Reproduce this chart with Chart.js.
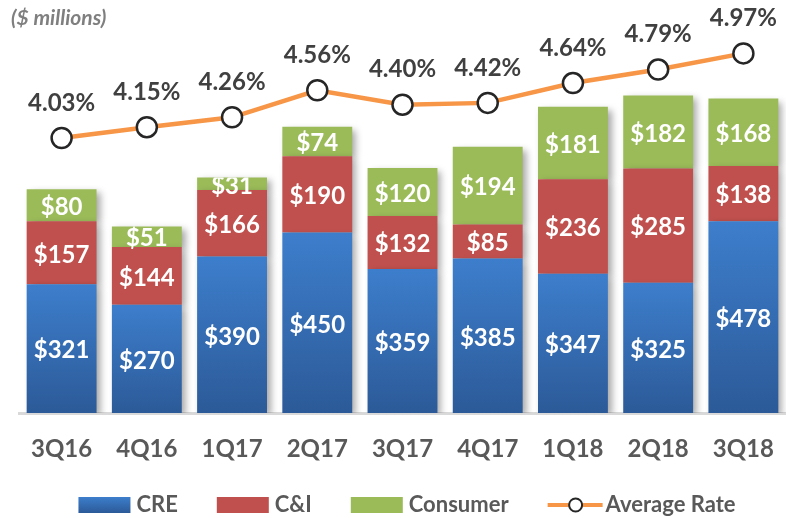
<!DOCTYPE html>
<html>
<head>
<meta charset="utf-8">
<script src="https://cdn.jsdelivr.net/npm/chart.js@4.4.1/dist/chart.umd.min.js"></script>
<style>
    html, body { margin: 0; padding: 0; background: #fff; }
    #wrap { width: 786px; height: 518px; position: relative; }
</style>
</head>
<body>
<div id="wrap"><canvas id="loanChart"></canvas></div>
<script>
const categories = ['3Q16', '4Q16', '1Q17', '2Q17', '3Q17', '4Q17', '1Q18', '2Q18', '3Q18'];
const creValues = [321, 270, 390, 450, 359, 385, 347, 325, 478];
const cniValues = [157, 144, 166, 190, 132, 85, 236, 285, 138];
const consumerValues = [80, 51, 31, 74, 120, 194, 181, 182, 168];
const avgRateValues = [4.03, 4.15, 4.26, 4.56, 4.40, 4.42, 4.64, 4.79, 4.97];

const FONT = 'Lato, "Open Sans", sans-serif';
const BLUE_TOP = '#3D7ECC';
const BLUE_BOTTOM = '#2C5A98';

// blue bars fade from light at the top to darker at the base
function blueGradient(context) {
    const chart = context.chart;
    if (!chart.chartArea || !context.parsed) return BLUE_TOP;
    const y = chart.scales.y;
    const top = y.getPixelForValue(context.parsed.y);
    const bottom = y.getPixelForValue(0);
    const g = chart.ctx.createLinearGradient(0, top, 0, bottom);
    g.addColorStop(0, BLUE_TOP);
    g.addColorStop(1, BLUE_BOTTOM);
    return g;
}

// soft shadow behind the bars
const barShadow = {
    id: 'barShadow',
    beforeDatasetDraw(chart, args) {
        if (args.meta.type !== 'bar') return;
        const ctx = chart.ctx;
        ctx.save();
        ctx.shadowColor = 'rgba(0,0,0,0.35)';
        ctx.shadowBlur = 7;
        ctx.shadowOffsetX = 4;
        ctx.shadowOffsetY = 3;
    },
    afterDatasetDraw(chart, args) {
        if (args.meta.type !== 'bar') return;
        chart.ctx.restore();
    }
};

// value labels on bars and above the rate points
const valueLabels = {
    id: 'valueLabels',
    afterDatasetsDraw(chart) {
        const ctx = chart.ctx;
        ctx.save();
        ctx.textAlign = 'center';
        ctx.textBaseline = 'middle';
        chart.data.datasets.forEach(function (ds, i) {
            const meta = chart.getDatasetMeta(i);
            meta.data.forEach(function (el, j) {
                const p = el.getProps(['x', 'y', 'base'], true);
                if (meta.type === 'bar') {
                    ctx.save();
                    ctx.beginPath();
                    ctx.rect(p.x - 60, p.y, 120, 200);
                    ctx.clip();
                    ctx.font = 'bold 24px ' + FONT;
                    ctx.fillStyle = '#FFFFFF';
                    ctx.fillText('$' + ds.data[j], p.x, (p.y + p.base) / 2 + 2);
                    ctx.restore();
                } else {
                    ctx.font = 'bold 24px ' + FONT;
                    ctx.fillStyle = '#404040';
                    ctx.fillText(ds.data[j].toFixed(2) + '%', p.x, p.y - 35);
                }
            });
        });
        ctx.restore();
    }
};

// unit note and legend drawn in the excel style
const extras = {
    id: 'extras',
    afterDraw(chart) {
        const ctx = chart.ctx;
        ctx.save();
        ctx.font = 'italic bold 21px ' + FONT;
        ctx.fillStyle = '#7F7F7F';
        ctx.textAlign = 'left';
        ctx.textBaseline = 'middle';
        ctx.fillText('($ millions)', 11, 18);

        ctx.font = 'bold 22px ' + FONT;
        const items = chart.data.datasets.map(function (ds) {
            return { ds: ds, w: 55 + 5 + ctx.measureText(ds.label).width };
        });
        const gap = 37;
        let total = 0;
        items.forEach(function (it) { total += it.w; });
        total += gap * (items.length - 1);
        let x = 408 - total / 2;
        const cy = 505;
        items.forEach(function (it) {
            const ds = it.ds;
            if (ds.type === 'line') {
                ctx.strokeStyle = ds.borderColor;
                ctx.lineWidth = 4;
                ctx.beginPath();
                ctx.moveTo(x, cy);
                ctx.lineTo(x + 55, cy);
                ctx.stroke();
                ctx.beginPath();
                ctx.arc(x + 28, cy, 6.5, 0, Math.PI * 2);
                ctx.fillStyle = '#FFFFFF';
                ctx.fill();
                ctx.lineWidth = 2;
                ctx.strokeStyle = '#262626';
                ctx.stroke();
            } else {
                let fill = ds.legendColor;
                if (ds.label === 'CRE') {
                    fill = ctx.createLinearGradient(0, cy - 8, 0, cy + 8);
                    fill.addColorStop(0, BLUE_TOP);
                    fill.addColorStop(1, BLUE_BOTTOM);
                }
                ctx.fillStyle = fill;
                ctx.fillRect(x, cy - 8, 52, 16);
            }
            ctx.fillStyle = '#595959';
            ctx.fillText(ds.label, x + 58, cy);
            x += it.w + gap;
        });
        ctx.restore();
    }
};

const ctx = document.getElementById('loanChart').getContext('2d');
const loanChart = new Chart(ctx, {
    data: {
        labels: categories,
        datasets: [
            {
                type: 'bar',
                label: 'CRE',
                data: creValues,
                order: 1,
                backgroundColor: blueGradient,
                legendColor: BLUE_TOP
            },
            {
                type: 'bar',
                label: 'C&I',
                data: cniValues,
                order: 1,
                backgroundColor: '#C0504D',
                legendColor: '#C0504D'
            },
            {
                type: 'bar',
                label: 'Consumer',
                data: consumerValues,
                order: 1,
                backgroundColor: '#9BBB59',
                legendColor: '#9BBB59'
            },
            {
                type: 'line',
                label: 'Average Rate',
                data: avgRateValues,
                yAxisID: 'y1',
                order: 0,
                borderColor: '#F79646',
                borderWidth: 4.5,
                pointRadius: 10,
                pointBorderWidth: 2.5,
                pointBackgroundColor: '#FFFFFF',
                pointBorderColor: '#262626',
                tension: 0
            }
        ]
    },
    options: {
        responsive: true,
        maintainAspectRatio: false,
        animation: false,
        datasets: {
            bar: { barPercentage: 0.82, categoryPercentage: 1.0 }
        },
        layout: {
            autoPadding: false,
            padding: { left: 19, right: -3, top: 10, bottom: 45 }
        },
        plugins: {
            legend: { display: false },
            tooltip: { enabled: false }
        },
        scales: {
            x: {
                stacked: true,
                grid: { display: false, drawTicks: false },
                border: { display: true, color: '#D9D9D9', width: 3 },
                ticks: {
                    color: '#595959',
                    font: { family: FONT, size: 24, weight: 'bold', lineHeight: 3 },
                    padding: 0
                },
                afterFit: function (axis) { axis.height = 60; }
            },
            y: {
                stacked: true,
                display: false,
                min: 0,
                max: 1005
            },
            y1: {
                display: false,
                min: 0.974,
                max: 5.452
            }
        }
    },
    plugins: [barShadow, valueLabels, extras]
});
</script>
</body>
</html>
